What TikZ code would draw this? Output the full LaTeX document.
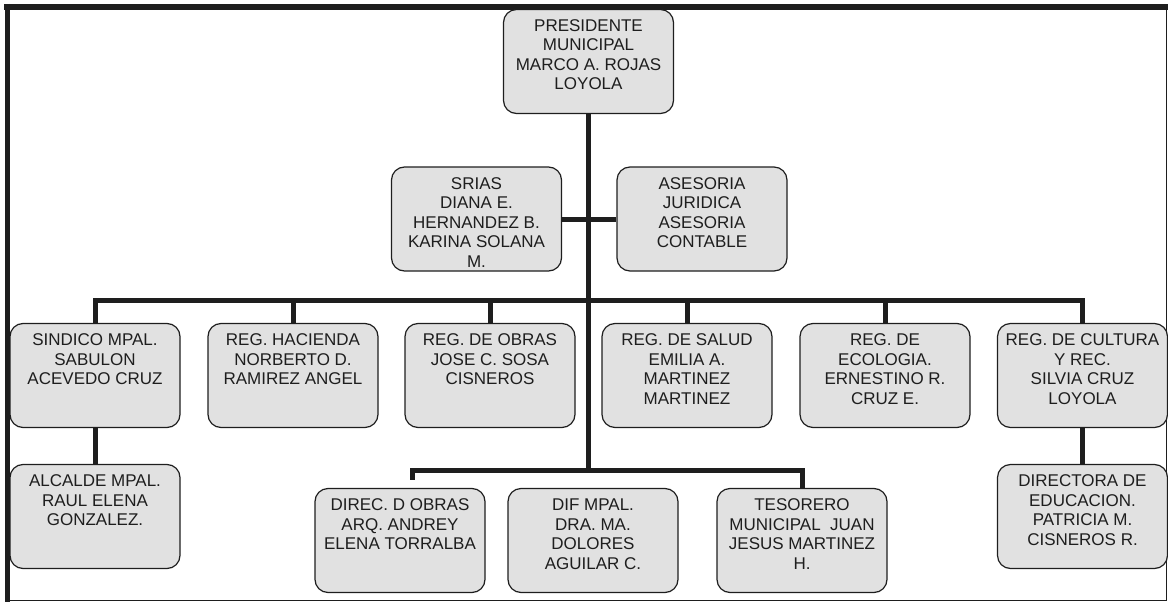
\documentclass[tikz,border=0pt]{standalone}
\usepackage{fontspec}
\setmainfont{Liberation Sans}
\definecolor{cajagris}{HTML}{E1E1E1}
\definecolor{lineagris}{HTML}{1E1E1E}
\newcommand{\celda}[1]{\parbox[c][104pt][t]{170pt}{\centering\rule{0pt}{22pt}#1}}
\begin{document}
\begin{tikzpicture}[x=1pt,y=-1pt,
    caja/.style={draw=lineagris,fill=cajagris,rounded corners=13pt,line width=1.2pt,inner sep=0pt,text=lineagris,font=\fontsize{17}{19.5}\selectfont},
    conector/.style={draw=lineagris,line width=5pt}]
  \useasboundingbox (0,0) rectangle (1168,602);
  % marco
  \draw[lineagris,line width=6pt] (4,7) -- (1168,7);
  \draw[lineagris,line width=5pt] (7.5,4) -- (7.5,601.5);
  \draw[lineagris,line width=1pt] (7.5,600.7) -- (1166.8,600.7) -- (1166.8,7);

  \coordinate (barra) at (0,300);
  \coordinate (barrab) at (0,470);

  \node[caja] (pres) at (588.5,61.5) {\celda{PRESIDENTE\\MUNICIPAL\\MARCO A. ROJAS\\LOYOLA}};
  \node[caja] (srias) at (476.5,219) {\celda{SRIAS\\DIANA E.\\HERNANDEZ B.\\KARINA SOLANA\\M.}};
  \node[caja] (asesoria) at (702,219) {\celda{ASESORIA\\JURIDICA\\ASESORIA\\CONTABLE}};

  \node[caja] (sindico) at (95,375.5) {\celda{SINDICO MPAL.\\SABULON\\ACEVEDO CRUZ}};
  \node[caja] (hacienda) at (293,375.5) {\celda{REG. HACIENDA\\NORBERTO D.\\RAMIREZ ANGEL}};
  \node[caja] (obras) at (490,375.5) {\celda{REG. DE OBRAS\\JOSE C. SOSA\\CISNEROS}};
  \node[caja] (salud) at (687,375.5) {\celda{REG. DE SALUD\\EMILIA A.\\MARTINEZ\\MARTINEZ}};
  \node[caja] (ecologia) at (885,375.5) {\celda{REG. DE\\ECOLOGIA.\\ERNESTINO R.\\CRUZ E.}};
  \node[caja] (cultura) at (1082.5,375.5) {\celda{REG. DE CULTURA\\Y REC.\\SILVIA CRUZ\\LOYOLA}};

  \node[caja] (alcalde) at (95,516.5) {\celda{ALCALDE MPAL.\\RAUL ELENA\\GONZALEZ.}};
  \node[caja] (directora) at (1082.5,516.5) {\celda{DIRECTORA DE\\EDUCACION.\\PATRICIA M.\\CISNEROS R.}};

  \node[caja] (direc) at (400,540.5) {\celda{DIREC. D OBRAS\\ARQ. ANDREY\\ELENA TORRALBA}};
  \node[caja] (dif) at (593,540.5) {\celda{DIF MPAL.\\DRA. MA.\\DOLORES\\AGUILAR C.}};
  \node[caja] (tesorero) at (802,540.5) {\celda{TESORERO\\MUNICIPAL\ \ JUAN\\JESUS MARTINEZ\\H.}};

  % lineas
  \draw[conector] (pres.south) -- (pres.south |- barrab);
  \draw[conector] (srias.east) -- (asesoria.west);
  \draw[conector] (sindico.north) |- (cultura.north |- barra) -- (cultura.north);
  \foreach \n in {hacienda,obras,salud,ecologia}
    \draw[conector] (\n.north) -- (\n.north |- barra);
  \draw[conector] (sindico.south) -- (alcalde.north);
  \draw[conector] (cultura.south) -- (directora.north);
  \draw[conector] ([xshift=12pt,yshift=8pt]direc.north) |- (tesorero.north |- barrab) -- (tesorero.north);
\end{tikzpicture}
\end{document}
